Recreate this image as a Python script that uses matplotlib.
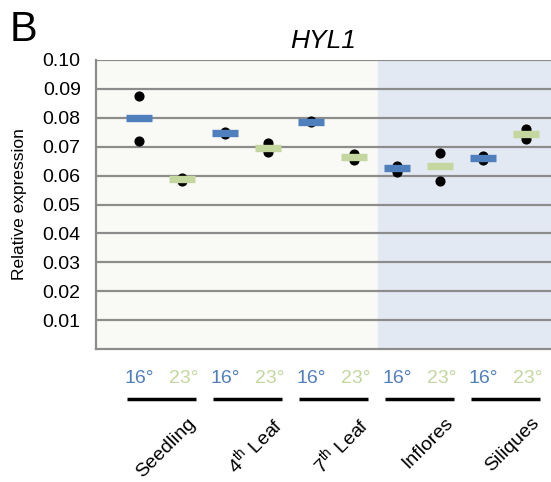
import numpy as np
import matplotlib
matplotlib.use("Agg")
import matplotlib.pyplot as plt

plt.rcParams['font.family'] = ['Liberation Sans', 'DejaVu Sans']
plt.rcParams['mathtext.fontset'] = 'custom'
plt.rcParams['mathtext.rm'] = 'Liberation Sans'

# data
tissues = ['Seedling', '4$^{\\mathrm{th}}$ Leaf', '7$^{\\mathrm{th}}$ Leaf', 'Inflores', 'Siliques']
temps = ['16°', '23°']
means_16 = [0.0800, 0.0747, 0.0787, 0.0627, 0.0661]
means_23 = [0.0589, 0.0697, 0.0666, 0.0633, 0.0743]
reps_16 = [[0.0874, 0.0718], [0.0750, 0.0745], [0.0790, 0.0786],
           [0.0634, 0.0613], [0.0668, 0.0654]]
reps_23 = [[0.0592, 0.0582], [0.0712, 0.0683], [0.0675, 0.0654],
           [0.0677, 0.0583], [0.0760, 0.0727]]
yticks = [0.01, 0.02, 0.03, 0.04, 0.05, 0.06, 0.07, 0.08, 0.09, 0.10]

blue = '#4f7fbd'
green = '#c3d79f'

fig = plt.figure(figsize=(5.51, 4.82), dpi=100)
ax = fig.add_axes([96 / 551, 1 - 349 / 482, 455 / 551, 289 / 482])

ax.set_xlim(-1, 9.58)
ax.set_ylim(0, 0.10)

# background panels: vegetative vs reproductive
ax.axvspan(-1, 5.55, color='#f9f9f6', zorder=0)
ax.axvspan(5.55, 9.58, color='#e3e9f3', zorder=0)

for y in yticks:
    ax.axhline(y, color='#8c8c8c', lw=1.6, zorder=1)

x16 = np.arange(len(tissues)) * 2
x23 = x16 + 1
for i in range(len(tissues)):
    ax.plot([x16[i]] * 2, reps_16[i], 'o', color='black', ms=6.3, zorder=2)
    ax.plot([x23[i]] * 2, reps_23[i], 'o', color='black', ms=6.3, zorder=2)
ax.hlines(means_16, x16 - 0.31, x16 + 0.31, colors=blue, lw=5.3, zorder=3)
ax.hlines(means_23, x23 - 0.31, x23 + 0.31, colors=green, lw=5.3, zorder=3)

ax.set_yticks(yticks)
ax.set_yticklabels(['%.2f' % v for v in yticks], fontsize=14)
ax.tick_params(axis='y', length=0, pad=11)
ax.set_xticks([])
for s in ['top', 'right']:
    ax.spines[s].set_visible(False)
ax.spines['left'].set_color('#8c8c8c')
ax.spines['left'].set_linewidth(1.6)
ax.spines['bottom'].set_color('#8c8c8c')
ax.spines['bottom'].set_linewidth(1.6)

ax.set_ylabel('Relative expression', fontsize=12.5, labelpad=11)
ax.set_title('HYL1', fontsize=19, style='italic', pad=9)
fig.text(10 / 551, 1 - 41 / 482, 'B', fontsize=30)

# labels below the axes
for i in range(len(tissues)):
    ax.text(x16[i], -0.0101, temps[0], color=blue, fontsize=14,
            ha='center', va='center', clip_on=False)
    ax.text(x23[i] + 0.05, -0.0101, temps[1], color=green, fontsize=14,
            ha='center', va='center', clip_on=False)
    ax.plot([x16[i] - 0.28, x23[i] + 0.33], [-0.0174, -0.0174], color='black',
            lw=2.5, clip_on=False, solid_capstyle='butt')
    ax.text(x16[i] + 1.25, -0.0248, tissues[i], fontsize=14, rotation=45,
            rotation_mode='anchor', ha='right', va='center', clip_on=False)

fig.savefig('out.png', dpi=100)
